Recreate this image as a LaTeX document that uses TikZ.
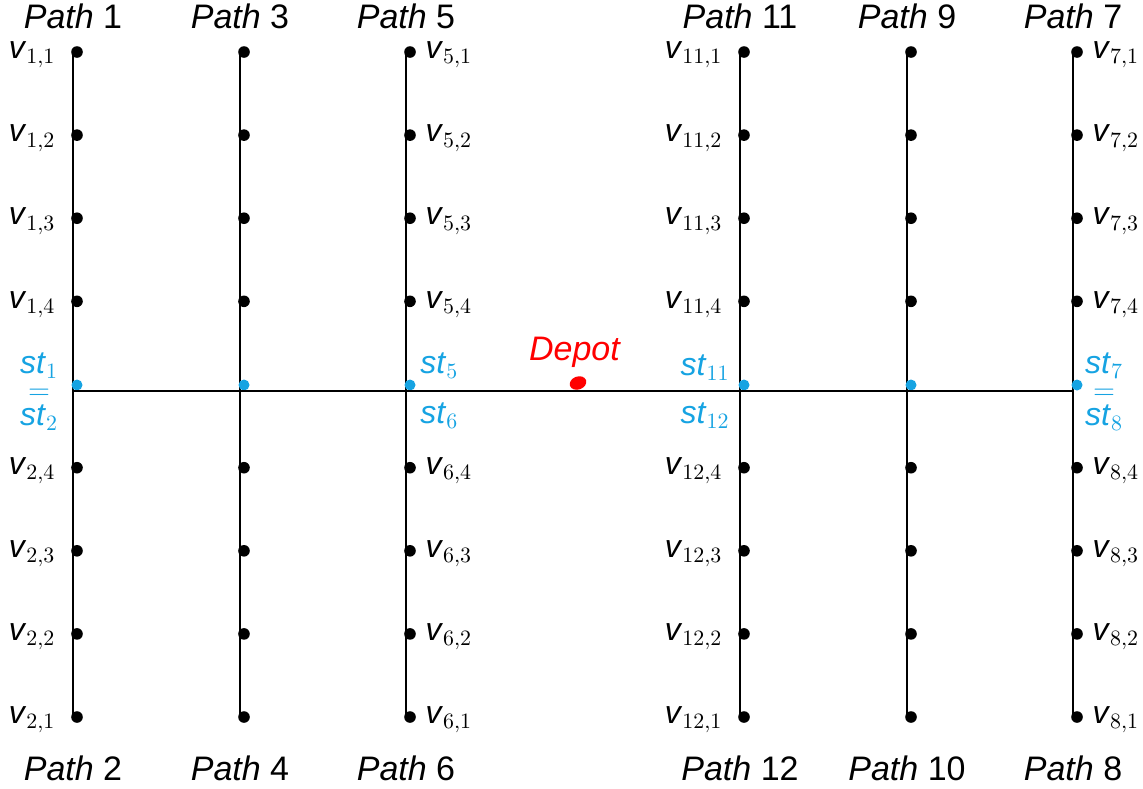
\documentclass[tikz,border=0pt]{standalone}
\usepackage[no-math]{fontspec}
\setmainfont{Liberation Sans}
\usepackage{tikz}
\usetikzlibrary{positioning,shapes.geometric}
\definecolor{stblue}{RGB}{22,163,226}
\tikzset{
  vtx/.style={circle, fill=black, inner sep=0pt, minimum size=5.8pt},
  stv/.style={circle, fill=stblue, inner sep=0pt, minimum size=5.5pt},
  depotv/.style={ellipse, fill=red, inner sep=0pt, minimum width=8.5pt, minimum height=6.5pt, rotate=20},
  pathline/.style={line width=1.15pt},
  pathlab/.style={font=\fontsize{17}{20}\selectfont, inner sep=0pt},
  vlab/.style={font=\fontsize{16}{19}\selectfont, inner sep=0pt},
  stlab/.style={font=\fontsize{16}{19}\selectfont, text=stblue, inner sep=0pt},
}

\begin{document}
\begin{tikzpicture}[x=0.5pt,y=-0.5pt]
\useasboundingbox (0,0) rectangle (1143,788);
% columns: x / upper path / lower path / side of the vertex labels
\foreach \x/\tp/\bp/\side in {73/1/2/-1, 240/3/4/0, 406/5/6/1, 740/11/12/-1, 907/9/10/0, 1073/7/8/1}{
  \coordinate (top\tp) at (\x,52);
  \coordinate (bot\bp) at (\x,717);
  \coordinate (mid\tp) at (\x,391);
  \draw[pathline] (top\tp) -- (bot\bp);
  \foreach \i in {1,...,4}{
    \node[vtx] (v\tp-\i) at (\x+4, 52+83.1*\i-83.1) {};
    \node[vtx] (v\bp-\i) at (\x+4, 717-83.1*\i+83.1) {};
    \ifnum\side<0
      \node[vlab, left=7.5pt of v\tp-\i, yshift=-1.5pt] (lv\tp-\i) {\textit{v}$_{\tp,\i}$};
      \node[vlab, left=7.5pt of v\bp-\i, yshift=-1.5pt] (lv\bp-\i) {\textit{v}$_{\bp,\i}$};
    \fi
    \ifnum\side>0
      \node[vlab, right=4.5pt of v\tp-\i, yshift=-1.5pt] (lv\tp-\i) {\textit{v}$_{\tp,\i}$};
      \node[vlab, right=4.5pt of v\bp-\i, yshift=-1.5pt] (lv\bp-\i) {\textit{v}$_{\bp,\i}$};
    \fi
  }
  \node[stv] (st\tp) at (\x+4,385) {};
  \node[pathlab, anchor=base] (p\tp) at (\x,28) {\textit{Path} \tp};
  \node[pathlab, anchor=base] (p\bp) at (\x,780) {\textit{Path} \bp};
}
% main road
\draw[pathline] (mid1) -- (mid7);
\node[depotv] (depot) at (578,383) {};
\node[pathlab, text=red, anchor=base] (depotlab) at (575,360) {\textit{Depot}};
% start points
\node[stlab, anchor=base] (st1lab) at (39,373) {\textit{st}$_1$};
\node[stlab, anchor=base, font=\fontsize{14}{16}\selectfont] (eq1) at (39,399) {$=$};
\node[stlab, anchor=base] (st2lab) at (39,425) {\textit{st}$_2$};
\node[stlab, anchor=base west] (st5lab) at (420,373) {\textit{st}$_5$};
\node[stlab, anchor=base west] (st6lab) at (420,423) {\textit{st}$_6$};
\node[stlab, anchor=base east] (st11lab) at (730,375) {\textit{st}$_{11}$};
\node[stlab, anchor=base east] (st12lab) at (730,423) {\textit{st}$_{12}$};
\node[stlab, anchor=base] (st7lab) at (1104,373) {\textit{st}$_7$};
\node[stlab, anchor=base, font=\fontsize{14}{16}\selectfont] (eq7) at (1104,399) {$=$};
\node[stlab, anchor=base] (st8lab) at (1104,425) {\textit{st}$_8$};
\end{tikzpicture}
\end{document}
